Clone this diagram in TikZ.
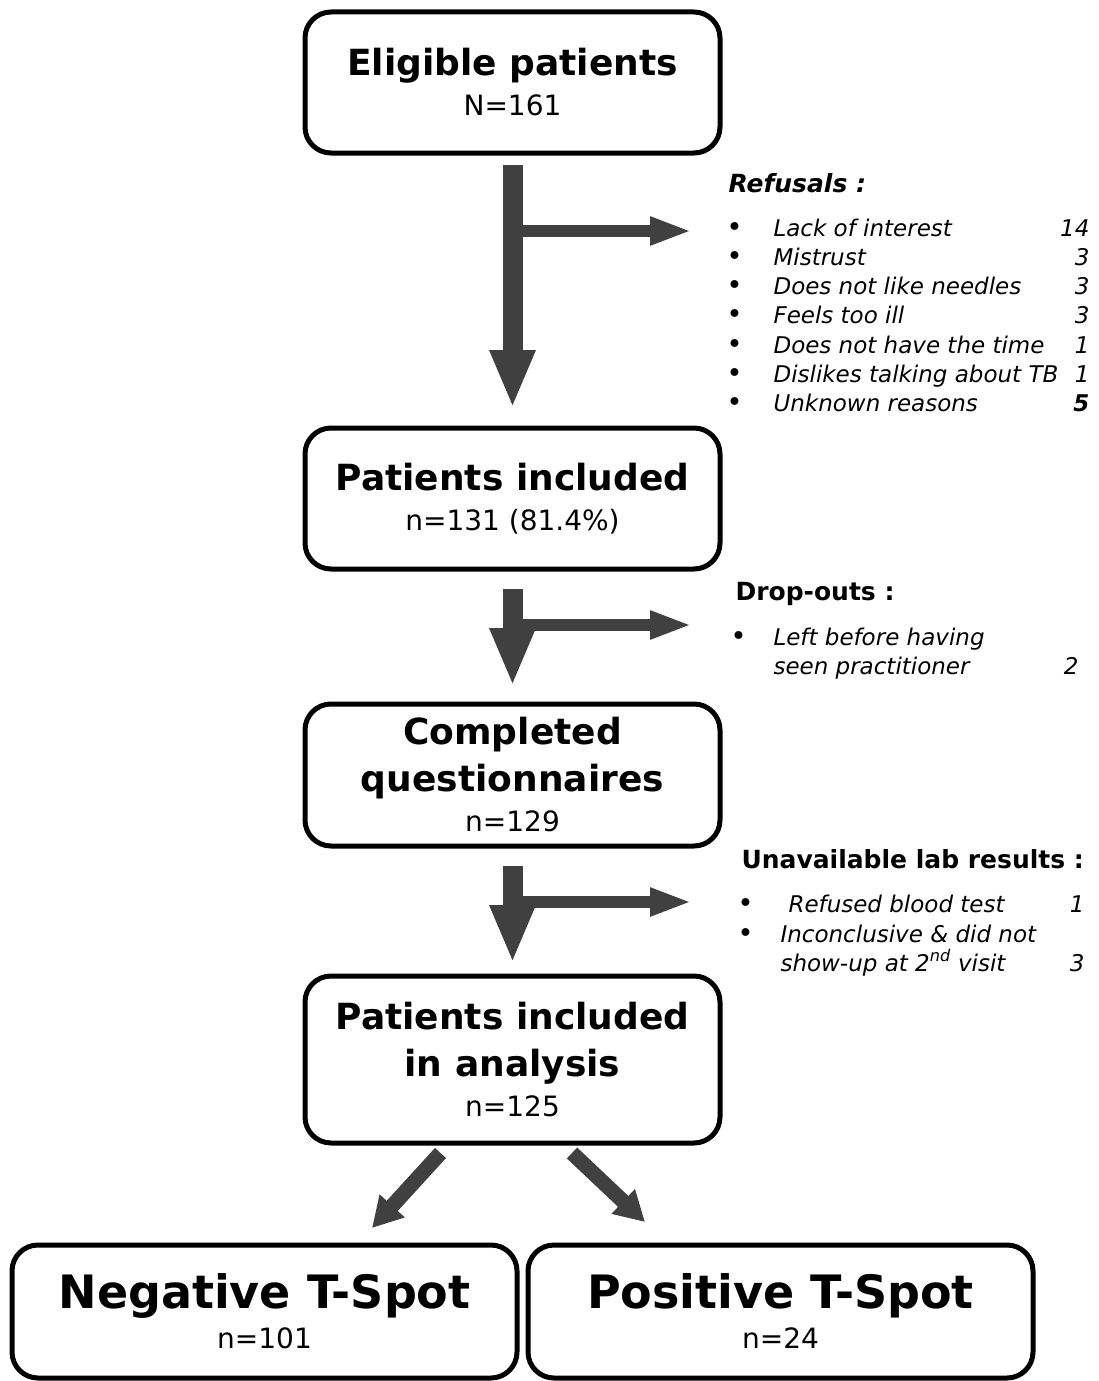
\documentclass[tikz,border=0pt]{standalone}
\usepackage{fontspec}
\setmainfont{DejaVu Sans}
\usetikzlibrary{arrows.meta,positioning}

\definecolor{arrowgray}{HTML}{404040}
\newcommand{\hdfont}{\fontsize{36}{40}\selectfont\bfseries}
\newcommand{\bigfont}{\fontsize{46}{50}\selectfont\bfseries}
\newcommand{\lstfont}{\fontsize{23}{29}\selectfont}

\tikzset{
  flowbox/.style={draw,line width=5pt,rounded corners=26pt,minimum width=415pt,
    minimum height=141pt,inner sep=0pt,outer sep=0pt,align=center,font=\fontsize{28}{40}\selectfont},
  bigarrow/.style={line width=20pt,color=arrowgray,-{Triangle[width=42pt,length=58pt]}},
  sidearrow/.style={line width=12pt,color=arrowgray,-{Triangle[width=26pt,length=42pt]}},
  diagarrow/.style={line width=15pt,color=arrowgray,-{Triangle[width=32pt,length=30pt]}},
  listhead/.style={anchor=base west,font=\fontsize{25}{30}\selectfont\bfseries},
  listbul/.style={anchor=base west,font=\fontsize{27}{29}\selectfont},
  listitem/.style={anchor=base west,font=\lstfont\itshape},
  listnum/.style={anchor=base east,font=\lstfont\itshape}
}

\begin{document}
\begin{tikzpicture}[x=1pt,y=-1pt]
  \useasboundingbox (0,0) rectangle (1099,1381);

  \node[flowbox] (elig) at (512.5,82.5) {{\hdfont Eligible patients}\\N=161};
  \node[flowbox] (incl) [below=275pt of elig] {{\hdfont Patients included}\\n=131 (81.4\%)};
  \node[flowbox,minimum height=142pt] (quest) [below=135pt of incl]
    {{\hdfont Completed}\\[7pt]{\hdfont questionnaires}\\n=129};
  \node[flowbox,minimum height=167pt] (anal) [below=130pt of quest]
    {{\hdfont Patients included}\\[7pt]{\hdfont in analysis}\\n=125};
  \node[flowbox,minimum width=505pt,minimum height=133pt] (neg) at (264.5,1311.5)
    {{\bigfont Negative T-Spot}\\n=101};
  \node[flowbox,minimum width=505pt,minimum height=133pt] (pos) [right=11pt of neg]
    {{\bigfont Positive T-Spot}\\n=24};

  \draw[bigarrow] ([yshift=-12pt]elig.south) -- ([yshift=20pt]incl.north);
  \draw[bigarrow] ([yshift=-20pt]incl.south) -- ([yshift=18pt]quest.north);
  \draw[bigarrow] ([yshift=-20pt]quest.south) -- ([yshift=13pt]anal.north);

  \coordinate (j1) at (512.5,231);
  \coordinate (r1) at (692,231);
  \coordinate (j2) at (512.5,625);
  \coordinate (r2) at (692,625);
  \coordinate (j3) at (512.5,902);
  \coordinate (r3) at (692,902);
  \draw[sidearrow] (j1) -- (r1);
  \draw[sidearrow] (j2) -- (r2);
  \draw[sidearrow] (j3) -- (r3);

  \draw[diagarrow] ([xshift=-72pt,yshift=-10pt]anal.south) -- ([xshift=107.5pt,yshift=17pt]neg.north);
  \draw[diagarrow] ([xshift=59.5pt,yshift=-10pt]anal.south) -- ([xshift=-135.5pt,yshift=23pt]pos.north);

  \node[listhead,font=\fontsize{25}{30}\selectfont\bfseries\itshape] (refhd) at (725,192) {Refusals :};
  \foreach \txt/\num [count=\i from 0] in {Lack of interest/14, Mistrust/3,
      Does not like needles/3, Feels too ill/3, Does not have the time/1,
      Dislikes talking about TB/1, Unknown reasons/{\bfseries 5}} {
    \node[listbul] (refb\i) at (723,{236+29.3*\i}) {\textbullet};
    \node[listitem] (ref\i) at (770,{236+29.3*\i}) {\txt};
    \node[listnum] (refn\i) at (1093,{236+29.3*\i}) {\num};
  }

  \node[listhead] (drophd) at (732,600) {Drop-outs :};
  \node[listbul] (dropb) at (727,645) {\textbullet};
  \node[listitem] (drop0) at (770,645) {Left before having};
  \node[listitem] (drop1) at (770,674) {seen practitioner};
  \node[listnum] (dropn) at (1082,674) {2};

  \node[listhead] (labhd) at (738,868) {Unavailable lab results :};
  \node[listbul] (labb0) at (734,912) {\textbullet};
  \node[listitem] (lab0) at (785,912) {Refused blood test};
  \node[listnum] (labn0) at (1088,912) {1};
  \node[listbul] (labb1) at (734,942) {\textbullet};
  \node[listitem] (lab1) at (777,942) {Inconclusive \& did not};
  \node[listitem] (lab2) at (777,971) {show-up at 2\textsuperscript{nd} visit};
  \node[listnum] (labn1) at (1088,971) {3};
\end{tikzpicture}
\end{document}
